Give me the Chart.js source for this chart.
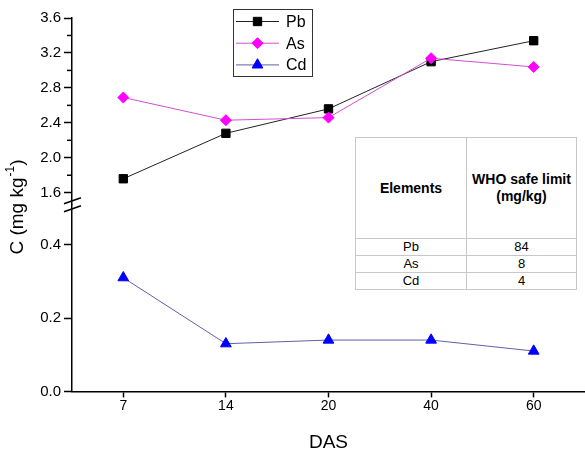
<!DOCTYPE html>
<html>
<head>
<meta charset="utf-8">
<script src="https://cdn.jsdelivr.net/npm/chart.js@4.4.1/dist/chart.umd.min.js"></script>
<style>
  body { margin: 0; background: #fff; }
  #wrap { position: relative; width: 585px; height: 452px; }
  #limits {
    position: absolute; left: 355px; top: 137px;
    border-collapse: collapse; background: #fff;
    font-family: "Liberation Sans", Arial, sans-serif; color: #000;
    border-left: 1.5px solid #555; border-right: 1.5px solid #555;
    border-bottom: 1.5px solid #555; border-top: 1px solid #ccc;
  }
  #limits th, #limits td { border: 1px solid #c8c8c8; text-align: center; padding: 0; }
  #limits th { font-size: 14px; font-weight: bold; height: 100px; line-height: 17px; }
  #limits td { font-size: 13px; height: 16px; line-height: 16px; }
  #limits .c1 { width: 110px; }
  #limits .c2 { width: 109px; }
</style>
</head>
<body>
<div id="wrap">
  <canvas id="chart" width="585" height="452"></canvas>
  <table id="limits"></table>
</div>
<script>
// sampling days (DAS)
const days = ['7', '14', '20', '40', '60'];
// concentrations, mg/kg
const pbValues = [1.76, 2.28, 2.56, 3.10, 3.34];
const asValues = [2.69, 2.43, 2.46, 3.14, 3.04];
const cdValues = [0.31, 0.13, 0.14, 0.14, 0.11];

// y tick labels for the two parts of the broken axis
const upperTicks = [1.6, 2.0, 2.4, 2.8, 3.2, 3.6];
const upperMinor = [1.8, 2.2, 2.6, 3.0, 3.4];
const lowerTicks = [0.0, 0.2, 0.4];

// inset table
const tableElements = ['Pb', 'As', 'Cd'];
const whoLimits = [84, 8, 4];

const FONT = '"Liberation Sans", Arial, sans-serif';
Chart.defaults.font.family = FONT;
Chart.defaults.color = '#000';

// build the table
const tbl = document.getElementById('limits');
let html = '<tr><th class="c1">Elements</th><th class="c2">WHO safe limit<br>(mg/kg)</th></tr>';
tableElements.forEach(function (el, i) {
    html += '<tr><td>' + el + '</td><td>' + whoLimits[i] + '</td></tr>';
});
tbl.innerHTML = html;

function marker(ctx, style, r, x, y) {
    ctx.beginPath();
    if (style === 'rect') {
        const s = r * Math.SQRT1_2;
        ctx.rect(x - s, y - s, 2 * s, 2 * s);
    } else if (style === 'rectRot') {
        ctx.moveTo(x - r, y); ctx.lineTo(x, y - r); ctx.lineTo(x + r, y); ctx.lineTo(x, y + r);
        ctx.closePath();
    } else {
        ctx.moveTo(x, y - r);
        ctx.lineTo(x + r * Math.sin(2 * Math.PI / 3), y - r * Math.cos(2 * Math.PI / 3));
        ctx.lineTo(x + r * Math.sin(4 * Math.PI / 3), y - r * Math.cos(4 * Math.PI / 3));
        ctx.closePath();
    }
    ctx.fill();
    ctx.stroke();
}

const decor = {
    id: 'decor',
    afterDraw(chart) {
        const ctx = chart.ctx;
        const up = chart.scales.yUp;
        ctx.save();
        ctx.strokeStyle = '#000';
        ctx.lineWidth = 1.5;
        // minor ticks
        upperMinor.forEach(function (v) {
            const py = up.getPixelForValue(v);
            ctx.beginPath();
            ctx.moveTo(up.right - 5, py);
            ctx.lineTo(up.right, py);
            ctx.stroke();
        });
        // axis break
        const bx = up.right, by = up.bottom;
        [-4, 4].forEach(function (d) {
            ctx.beginPath();
            ctx.moveTo(bx - 8, by + d + 3);
            ctx.lineTo(bx + 9, by + d - 3);
            ctx.stroke();
        });

        // y title with superscript
        ctx.save();
        ctx.translate(18, 207);
        ctx.rotate(-Math.PI / 2);
        ctx.fillStyle = '#000';
        ctx.textBaseline = 'middle';
        ctx.textAlign = 'left';
        const big = '19px ' + FONT, small = '12px ' + FONT;
        ctx.font = big;
        const w1 = ctx.measureText('C (mg kg').width;
        const w3 = ctx.measureText(')').width;
        ctx.font = small;
        const w2 = ctx.measureText('-1').width + 1;
        let x0 = -(w1 + w2 + w3) / 2;
        ctx.font = big;
        ctx.fillText('C (mg kg', x0, 0);
        ctx.font = small;
        ctx.fillText('-1', x0 + w1 + 1, -7);
        ctx.font = big;
        ctx.fillText(')', x0 + w1 + w2, 0);
        ctx.restore();

        // legend
        ctx.lineWidth = 1;
        ctx.strokeStyle = '#333';
        ctx.strokeRect(233.5, 9.5, 79, 67);
        ctx.font = '16px ' + FONT;
        ctx.textBaseline = 'middle';
        chart.data.datasets.forEach(function (ds, i) {
            const y = 21.5 + i * 21.7;
            ctx.strokeStyle = ds.borderColor;
            ctx.beginPath();
            ctx.moveTo(236, y);
            ctx.lineTo(279, y);
            ctx.stroke();
            ctx.fillStyle = ds.pointBackgroundColor;
            ctx.strokeStyle = ds.pointBorderColor;
            marker(ctx, ds.pointStyle, ds.pointRadius, 257.5, y);
            ctx.fillStyle = '#000';
            ctx.fillText(ds.label, 286, y + 1);
        });
        ctx.restore();
    }
};

function yAxis(ticks, lo, hi) {
    return {
        type: 'linear',
        position: 'left',
        stack: 'conc',
        stackWeight: 1,
        min: lo,
        max: hi,
        afterBuildTicks: function (scale) {
            scale.ticks = ticks.map(function (v) { return { value: v }; });
        },
        afterFit: function (scale) { scale.width = 72; },
        grid: { drawOnChartArea: false, tickLength: 8, tickWidth: 1.5, color: '#000' },
        border: { color: '#000', width: 1.5 },
        ticks: {
            autoSkip: false,
            padding: 3,
            font: { size: 15 },
            callback: function (v) { return Number(v).toFixed(1); }
        }
    };
}

new Chart(document.getElementById('chart'), {
    type: 'line',
    data: {
        labels: days,
        datasets: [{
            label: 'Pb',
            data: pbValues,
            yAxisID: 'yUp',
            order: 1,
            borderColor: '#222',
            borderWidth: 1,
            pointStyle: 'rect',
            pointRadius: 5.9,
            pointBackgroundColor: '#000',
            pointBorderColor: '#000',
            pointBorderWidth: 1
        }, {
            label: 'As',
            data: asValues,
            yAxisID: 'yUp',
            order: 0,
            borderColor: '#d050d0',
            borderWidth: 1,
            pointStyle: 'rectRot',
            pointRadius: 5.5,
            pointBackgroundColor: '#ff00ff',
            pointBorderColor: '#ff00ff',
            pointBorderWidth: 1
        }, {
            label: 'Cd',
            data: cdValues,
            yAxisID: 'yLow',
            order: 0,
            borderColor: '#6060a8',
            borderWidth: 1,
            pointStyle: 'triangle',
            pointRadius: 6.2,
            pointBackgroundColor: '#0000ff',
            pointBorderColor: '#0000ff',
            pointBorderWidth: 1
        }]
    },
    options: {
        responsive: false,
        animation: false,
        devicePixelRatio: 1,
        layout: { autoPadding: false, padding: { top: 18, left: 0, right: -1, bottom: 0 } },
        plugins: {
            legend: { display: false },
            tooltip: { enabled: false }
        },
        scales: {
            x: {
                type: 'category',
                offset: true,
                afterFit: function (scale) { scale.paddingLeft = 0; scale.paddingRight = 0; },
                grid: { drawOnChartArea: false, offset: false, tickLength: 6, tickWidth: 1.5, color: '#000' },
                border: { color: '#000', width: 1.5 },
                ticks: { padding: 0, maxRotation: 0, font: { size: 14 } },
                title: { display: true, text: 'DAS', font: { size: 19 }, padding: { top: 17, bottom: -2 } }
            },
            // the first stacked axis goes to the bottom
            yLow: yAxis(lowerTicks, 0, 0.509),
            yUp: yAxis(upperTicks, 1.463, 3.6)
        }
    },
    plugins: [decor]
});
</script>
</body>
</html>
